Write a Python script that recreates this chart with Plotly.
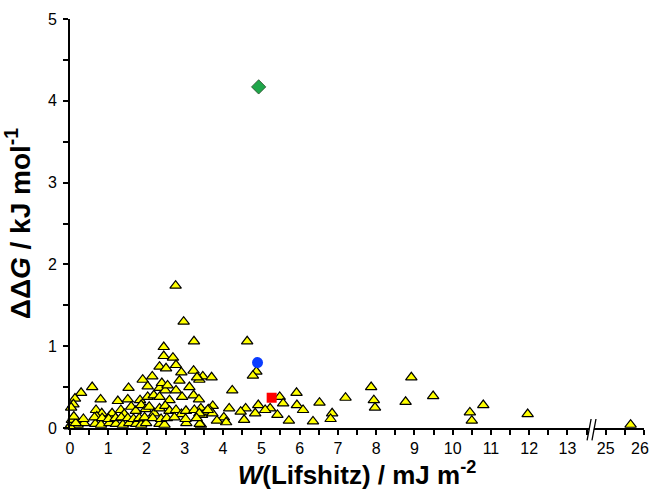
import plotly.graph_objects as go

# ---- data ----
tri_w = [2.76, 2.97, 3.24, 4.63, 2.45, 4.87, 4.78,
         3.47, 3.70, 3.38, 4.24, 5.92, 5.48, 7.20, 5.57, 5.93, 4.92, 6.52, 6.09, 5.23, 5.10, 4.84, 5.42, 4.59, 4.46, 4.16,
         6.85, 6.81, 6.35, 5.72, 4.55, 4.02, 4.08, 3.84, 3.73, 3.63, 3.42, 3.45, 3.42, 3.56, 3.72,
         7.87, 7.94, 7.97, 8.92, 8.77, 9.49, 10.45, 10.50, 10.80, 11.96, 25.65,
         2.45, 2.69, 2.77, 2.34, 2.51, 2.91, 3.23, 2.86, 3.32, 1.90, 2.15, 2.03, 2.34, 2.49, 2.77, 3.12, 1.53,
         0.58, 0.29, 0.13, 0.09, 0.03, 0.80, 1.25, 1.51, 1.83, 2.03, 2.19, 2.34, 2.60, 2.93, 3.23, 3.37,
         0.68, 0.83, 0.70, 1.03, 1.10, 1.33, 1.42, 1.60, 1.72, 1.86, 1.98, 2.07, 2.20, 2.34, 2.49, 2.60, 2.77,
         2.91, 3.03, 3.25, 3.38, 3.60,
         0.04, 0.20, 0.37, 0.66, 0.81, 1.03, 1.20, 1.38, 1.55, 1.73, 1.86, 1.99, 2.34, 2.47, 3.04, 3.39,
         0.11, 0.35, 0.64, 0.84, 1.01, 1.19, 1.34, 1.51, 1.66, 1.81, 1.95, 2.16, 2.38, 2.53, 2.73, 3.02, 3.31,
         0.00, 0.05, 0.15, 0.10, 2.40, 2.55]
tri_ddg = [1.74, 1.30, 1.06, 1.06, 0.99, 0.69, 0.64,
           0.63, 0.62, 0.59, 0.46, 0.43, 0.38, 0.37, 0.30, 0.28, 0.28, 0.31, 0.22, 0.24, 0.22, 0.18, 0.16, 0.24, 0.20, 0.24,
           0.18, 0.11, 0.08, 0.09, 0.10, 0.13, 0.07, 0.09, 0.27, 0.23, 0.24, 0.16, 0.04, 0.20, 0.18,
           0.50, 0.34, 0.25, 0.62, 0.32, 0.39, 0.19, 0.09, 0.28, 0.17, 0.04,
           0.88, 0.86, 0.77, 0.75, 0.73, 0.68, 0.70, 0.58, 0.62, 0.59, 0.63, 0.51, 0.49, 0.46, 0.46, 0.50, 0.49,
           0.50, 0.43, 0.36, 0.29, 0.25, 0.35, 0.33, 0.35, 0.34, 0.38, 0.40, 0.38, 0.34, 0.38, 0.40, 0.35,
           0.22, 0.18, 0.14, 0.14, 0.18, 0.22, 0.17, 0.26, 0.21, 0.28, 0.23, 0.26, 0.18, 0.24, 0.27, 0.21, 0.22,
           0.17, 0.21, 0.22, 0.18, 0.22,
           0.05, 0.04, 0.06, 0.05, 0.04, 0.06, 0.05, 0.04, 0.06, 0.05, 0.04, 0.06, 0.05, 0.04, 0.06, 0.05,
           0.12, 0.11, 0.13, 0.12, 0.11, 0.12, 0.13, 0.12, 0.11, 0.12, 0.13, 0.12, 0.11, 0.12, 0.13, 0.11, 0.12,
           0.02, 0.10, 0.06, 0.14, 0.55, 0.52]

green_w, green_ddg = [4.93], [4.17]
blue_w, blue_ddg = [4.90], [0.80]
red_w, red_ddg = [5.27], [0.37]

tick_vals = list(range(0, 16))
tick_text = [str(i) for i in range(0, 14)] + ["25", "26"]

BREAK_FROM, BREAK_TO = 14, 25  # axis break: 25 drawn where 14 would be
BREAK_POS = 13.73
X_MAX = 15


def to_axis(w):
    return [v if v < BREAK_FROM else v - (BREAK_TO - BREAK_FROM) for v in w]


fig = go.Figure()
fig.add_trace(go.Scatter(x=to_axis(tri_w), y=tri_ddg, mode="markers",
                         marker=dict(symbol="triangle-up", size=10, color="#ffff00",
                                     line=dict(color="black", width=1.2)),
                         cliponaxis=False, showlegend=False))
fig.add_trace(go.Scatter(x=to_axis(green_w), y=green_ddg, mode="markers",
                         marker=dict(symbol="diamond", size=11, color="#1fa64a",
                                     line=dict(color="#2a4a2a", width=0.8)),
                         showlegend=False))
fig.add_trace(go.Scatter(x=to_axis(blue_w), y=blue_ddg, mode="markers",
                         marker=dict(symbol="circle", size=11, color="#0a3cff"),
                         showlegend=False))
fig.add_trace(go.Scatter(x=to_axis(red_w), y=red_ddg, mode="markers",
                         marker=dict(symbol="square", size=10, color="#ff0000"),
                         showlegend=False))

# axis break marker
bp = BREAK_POS / X_MAX
fig.add_shape(type="path", xref="paper", yref="paper",
              path=f"M {bp-0.014} -0.03 L {bp-0.007} 0.022 L {bp+0.0005} 0.022 L {bp-0.0065} -0.03 Z",
              fillcolor="white", line=dict(width=0), layer="above")
fig.add_shape(type="line", xref="paper", yref="paper", x0=bp - 0.0145, y0=-0.03, x1=bp - 0.0075, y1=0.022,
              line=dict(color="black", width=1.3))
fig.add_shape(type="line", xref="paper", yref="paper", x0=bp - 0.006, y0=-0.03, x1=bp + 0.001, y1=0.022,
              line=dict(color="black", width=1.3))

axis_font = dict(family="Liberation Sans, Arial", size=16, color="black")

# the last tick label sits at the very edge of the figure; draw it as an annotation
# so it is not dropped by the axis overflow check
shown_text = tick_text[:-1] + [""]
fig.add_annotation(x=1, xref="paper", y=0, yref="paper", text=tick_text[-1], showarrow=False,
                   xanchor="right", yanchor="middle", xshift=7, yshift=-20, font=axis_font)

fig.update_xaxes(range=[0, X_MAX], tickvals=tick_vals, ticktext=shown_text, automargin=False,
                 showline=True, linecolor="black", linewidth=2, ticks="outside", ticklen=5,
                 tickwidth=1.5, tickcolor="black", showgrid=False, zeroline=False,
                 minor=dict(dtick=0.5, ticks="outside", ticklen=5, tickwidth=1.5, tickcolor="black", showgrid=False),
                 tickfont=axis_font,
                 title=dict(text="<b><i>W</i>(Lifshitz) / mJ m<sup>-2</sup></b>",
                            font=dict(family="Liberation Sans, Arial", size=26, color="black"), standoff=3))
fig.update_yaxes(range=[0, 5], tickvals=[0, 1, 2, 3, 4, 5], automargin=False,
                 showline=True, linecolor="black", linewidth=2, ticks="outside", ticklen=5,
                 tickwidth=1.5, tickcolor="black", showgrid=False, zeroline=False, ticklabelstandoff=3,
                 minor=dict(dtick=0.5, ticks="outside", ticklen=5, tickwidth=1.5, tickcolor="black", showgrid=False),
                 tickfont=axis_font,
                 title=dict(text="<b>ΔΔ<i>G</i> / kJ mol<sup>-1</sup></b>",
                            font=dict(family="Liberation Sans, Arial", size=28, color="black"), standoff=12))

fig.update_layout(width=651, height=492, plot_bgcolor="white", paper_bgcolor="white",
                  margin=dict(l=70, r=7, t=19, b=64))

# remove the default page margin so the figure fills the window exactly
fig.write_html("out.html", config={"displayModeBar": False},
               post_script="document.body.style.margin='0';document.body.style.overflow='hidden';")
